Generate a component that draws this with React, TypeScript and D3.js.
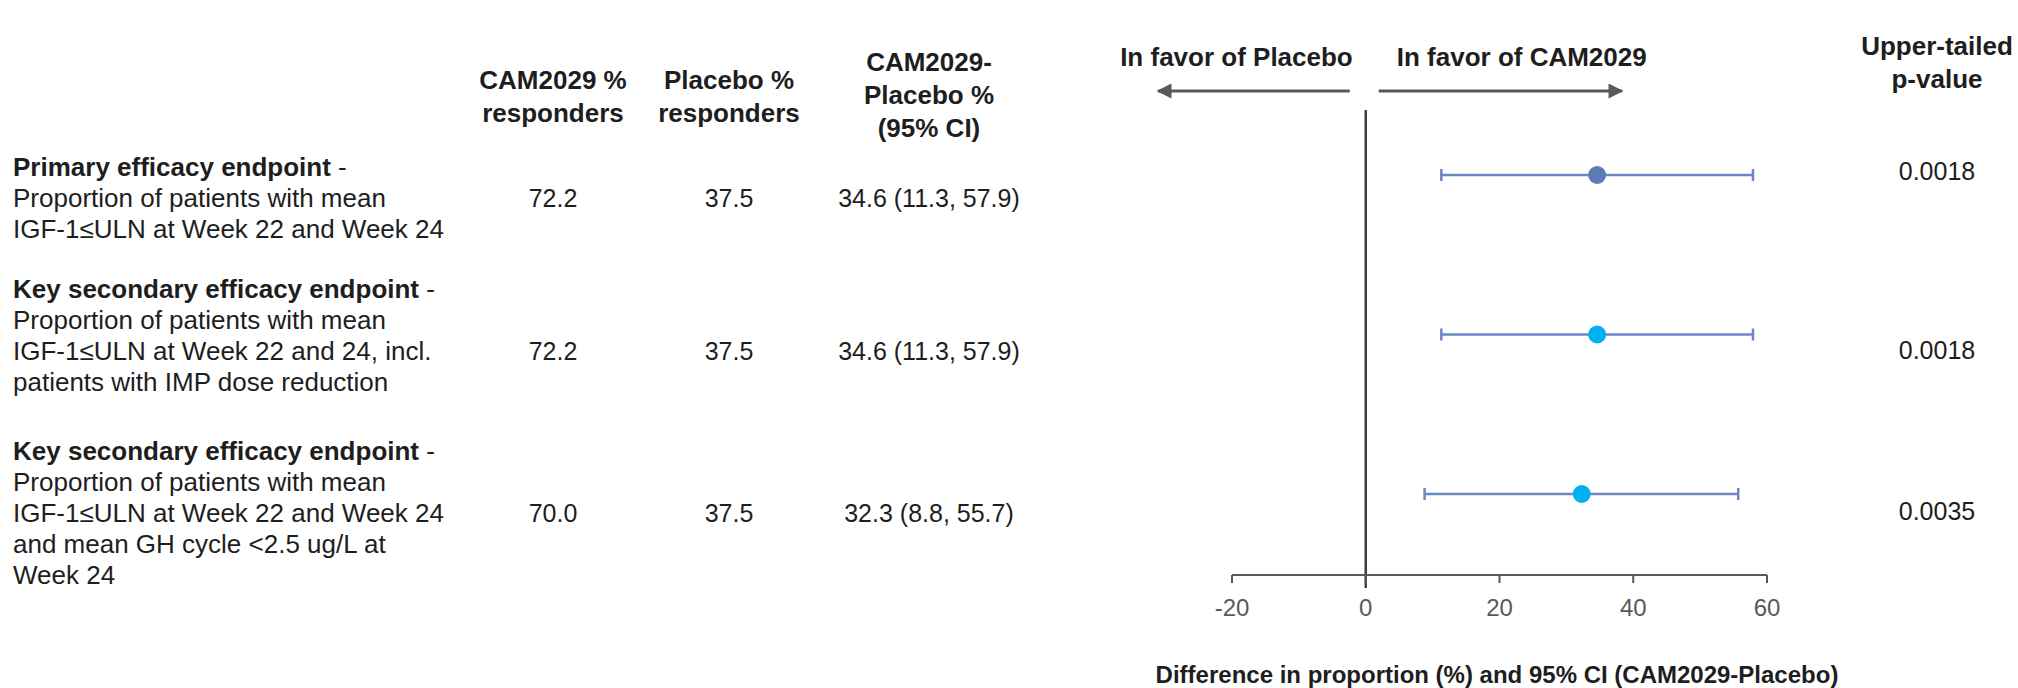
import React from "react";
import * as d3 from "d3";

// ---------- data ----------
const endpointTitles = [
  "Primary efficacy endpoint",
  "Key secondary efficacy endpoint",
  "Key secondary efficacy endpoint",
];
const endpointLines = [
  ["Proportion of patients with mean", "IGF-1≤ULN at Week 22 and Week 24"],
  ["Proportion of patients with mean", "IGF-1≤ULN at Week 22 and 24, incl.", "patients with IMP dose reduction"],
  [
    "Proportion of patients with mean",
    "IGF-1≤ULN at Week 22 and Week 24",
    "and mean GH cycle <2.5 ug/L at",
    "Week 24",
  ],
];
const camResponders = ["72.2", "72.2", "70.0"];
const placeboResponders = ["37.5", "37.5", "37.5"];
const diffEstimate = [34.6, 34.6, 32.3];
const ciLower = [11.3, 11.3, 8.8];
const ciUpper = [57.9, 57.9, 55.7];
const pValues = ["0.0018", "0.0018", "0.0035"];
const xTicks = [-20, 0, 20, 40, 60];
const xDomain = [-20, 60];

const colHeaderCam = ["CAM2029 %", "responders"];
const colHeaderPlacebo = ["Placebo %", "responders"];
const colHeaderDiff = ["CAM2029-", "Placebo %", "(95% CI)"];
const colHeaderP = ["Upper-tailed", "p-value"];
const favorLeft = "In favor of Placebo";
const favorRight = "In favor of CAM2029";
const axisTitle = "Difference in proportion (%) and 95% CI (CAM2029-Placebo)";

// ---------- styles / layout ----------
const W = 2018;
const H = 688;
const FONT = "'Liberation Sans', Arial, Helvetica, sans-serif";
const TEXT = "#1e1e1e";
const GREY = "#595959";
const AXIS = "#404040";
const CI_COLOR = "#6a89c4";
const DOT_COLORS = ["#5b7bb4", "#00b0f0", "#00b0f0"];

const blockTop = [167, 289, 451];
const linePitch = 31;
const valueY = [198, 351, 513];
const pY = [171, 350, 511];
const colCam = 553;
const colPlacebo = 729;
const colDiff = 929;
const colP = 1937;
const axisY = 575;

export default function App() {
  const x = d3.scaleLinear().domain(xDomain).range([1232, 1767]);
  const yDot = d3.scaleLinear().domain([0, 2]).range([175, 494]);
  const x0 = x(0);
  const arrowY = 91;

  const header = (lines: string[], cx: number, y0: number) =>
    lines.map((t, i) => (
      <text
        key={t + i}
        x={cx}
        y={y0 + i * 33}
        textAnchor="middle"
        dominantBaseline="central"
        fontWeight="bold"
        fontSize={26}
        fill={TEXT}
      >
        {t}
      </text>
    ));

  return (
    <svg
      width={W}
      height={H}
      style={{ position: "absolute", left: 0, top: 0, background: "#fff" }}
      fontFamily={FONT}
    >
      <defs>
        <marker id="ah" viewBox="0 0 10 10" refX="9" refY="5" markerWidth="5.5" markerHeight="5" orient="auto-start-reverse" markerUnits="strokeWidth">
          <path d="M0,0 L10,5 L0,10 z" fill={GREY} />
        </marker>
      </defs>

      {/* column headers */}
      {header(colHeaderCam, colCam, 80)}
      {header(colHeaderPlacebo, colPlacebo, 80)}
      {header(colHeaderDiff, colDiff, 62)}
      {header(colHeaderP, colP, 46)}

      {/* favour labels and arrows */}
      <text x={x0 - 13} y={57} textAnchor="end" dominantBaseline="central" fontWeight="bold" fontSize={26} fill={TEXT}>
        {favorLeft}
      </text>
      <text x={x0 + 31} y={57} textAnchor="start" dominantBaseline="central" fontWeight="bold" fontSize={26} fill={TEXT}>
        {favorRight}
      </text>
      <line x1={x0 - 16} x2={1158} y1={arrowY} y2={arrowY} stroke={GREY} strokeWidth={3} markerEnd="url(#ah)" />
      <line x1={x0 + 13} x2={1622} y1={arrowY} y2={arrowY} stroke={GREY} strokeWidth={3} markerEnd="url(#ah)" />

      {/* endpoint rows */}
      {endpointTitles.map((title, i) => (
        <g key={i}>
          <text x={13} y={blockTop[i]} dominantBaseline="central" fontSize={26} fill={TEXT}>
            <tspan fontWeight="bold">{title}</tspan>
            <tspan> -</tspan>
          </text>
          {endpointLines[i].map((ln, j) => (
            <text key={j} x={13} y={blockTop[i] + (j + 1) * linePitch} dominantBaseline="central" fontSize={26} fill={TEXT}>
              {ln}
            </text>
          ))}
          <text x={colCam} y={valueY[i]} textAnchor="middle" dominantBaseline="central" fontSize={25} fill={TEXT}>
            {camResponders[i]}
          </text>
          <text x={colPlacebo} y={valueY[i]} textAnchor="middle" dominantBaseline="central" fontSize={25} fill={TEXT}>
            {placeboResponders[i]}
          </text>
          <text x={colDiff} y={valueY[i]} textAnchor="middle" dominantBaseline="central" fontSize={25} fill={TEXT}>
            {`${diffEstimate[i].toFixed(1)} (${ciLower[i].toFixed(1)}, ${ciUpper[i].toFixed(1)})`}
          </text>
          <text x={colP} y={pY[i]} textAnchor="middle" dominantBaseline="central" fontSize={25} fill={TEXT}>
            {pValues[i]}
          </text>
        </g>
      ))}

      {/* zero line */}
      <line x1={x0} x2={x0} y1={110} y2={axisY + 13} stroke={AXIS} strokeWidth={2.5} />

      {/* x axis */}
      <line x1={x(xDomain[0])} x2={x(xDomain[1])} y1={axisY} y2={axisY} stroke={GREY} strokeWidth={2} />
      {xTicks.map((t) => (
        <g key={t}>
          <line x1={x(t)} x2={x(t)} y1={axisY} y2={axisY + 8} stroke={GREY} strokeWidth={2} />
          <text x={x(t)} y={axisY + 32} textAnchor="middle" dominantBaseline="central" fontSize={24} fill={GREY}>
            {t}
          </text>
        </g>
      ))}
      <text x={1497} y={674} textAnchor="middle" dominantBaseline="central" fontWeight="bold" fontSize={24} fill={TEXT}>
        {axisTitle}
      </text>

      {/* CI bars and points */}
      {diffEstimate.map((d, i) => {
        const y = yDot(i);
        return (
          <g key={i}>
            <line x1={x(ciLower[i])} x2={x(ciUpper[i])} y1={y} y2={y} stroke={CI_COLOR} strokeWidth={2.5} />
            <line x1={x(ciLower[i])} x2={x(ciLower[i])} y1={y - 6} y2={y + 6} stroke={CI_COLOR} strokeWidth={2.5} />
            <line x1={x(ciUpper[i])} x2={x(ciUpper[i])} y1={y - 6} y2={y + 6} stroke={CI_COLOR} strokeWidth={2.5} />
            <circle cx={x(d)} cy={y} r={9} fill={DOT_COLORS[i]} />
          </g>
        );
      })}
    </svg>
  );
}
